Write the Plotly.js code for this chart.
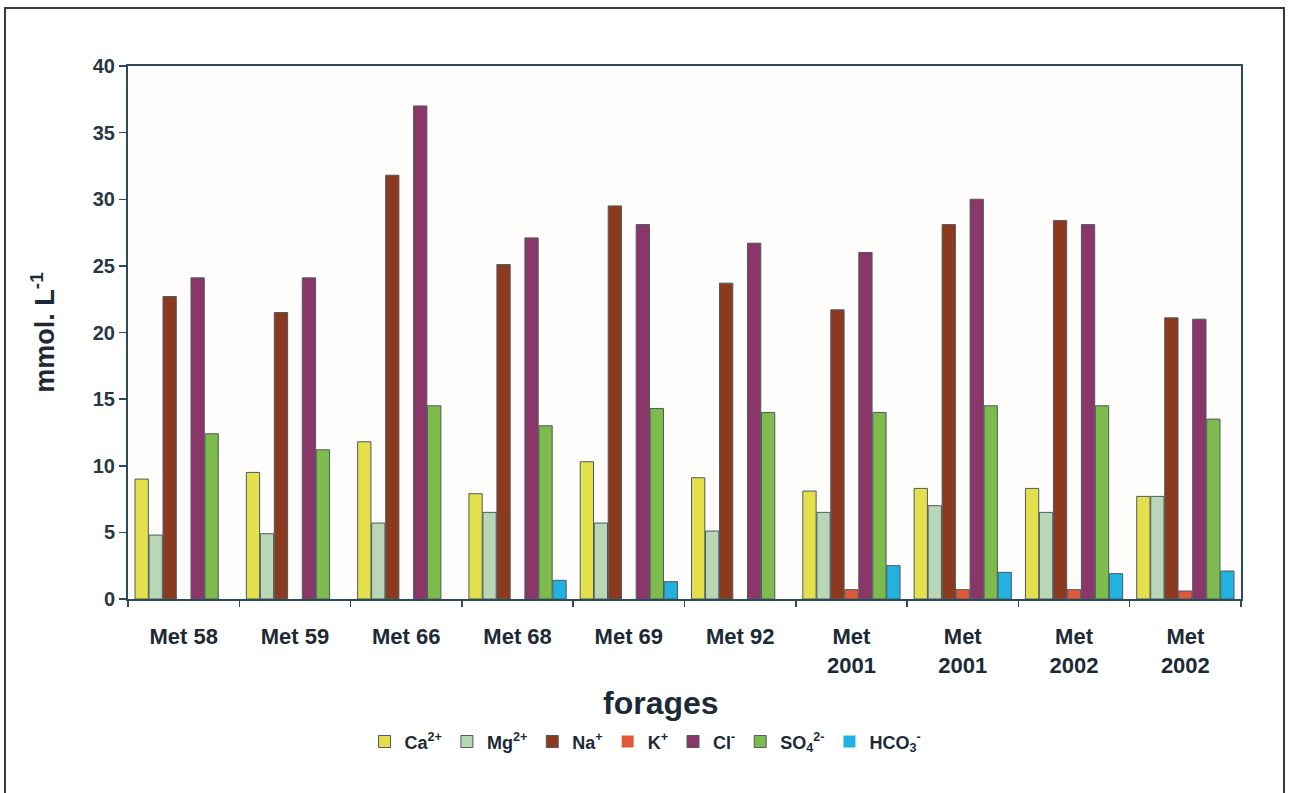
<!DOCTYPE html>
<html>
<head>
<meta charset="utf-8">
<script src="https://cdn.plot.ly/plotly-3.0.1.min.js"></script>
<style>
  html, body { margin: 0; padding: 0; background: #ffffff; }
  #wrap { position: relative; width: 1289px; height: 793px; overflow: hidden; }
  #chart { width: 1289px; height: 793px; }
  #frame { position: absolute; left: 4px; top: 7px; width: 1281px; height: 800px;
           border: 2px solid #3a3a3a; pointer-events: none; box-sizing: border-box; }
</style>
</head>
<body>
<div id="wrap">
  <div id="chart"></div>
  <div id="frame"></div>
</div>
<script>
// Boreholes (forages) and major ion concentrations, mmol/L
const forages = ["Met 58", "Met 59", "Met 66", "Met 68", "Met 69", "Met 92",
                 "Met<br>2001", "Met<br>2001", "Met<br>2002", "Met<br>2002"];

const ca   = [9.0, 9.5, 11.8, 7.9, 10.3, 9.1, 8.1, 8.3, 8.3, 7.7];
const mg   = [4.8, 4.9, 5.7, 6.5, 5.7, 5.1, 6.5, 7.0, 6.5, 7.7];
const na   = [22.7, 21.5, 31.8, 25.1, 29.5, 23.7, 21.7, 28.1, 28.4, 21.1];
const k    = [0, 0, 0, 0, 0, 0, 0.7, 0.7, 0.7, 0.6];
const cl   = [24.1, 24.1, 37.0, 27.1, 28.1, 26.7, 26.0, 30.0, 28.1, 21.0];
const so4  = [12.4, 11.2, 14.5, 13.0, 14.3, 14.0, 14.0, 14.5, 14.5, 13.5];
const hco3 = [0, 0, 0, 1.4, 1.3, 0, 2.5, 2.0, 1.9, 2.1];

const ionNames = ["Ca<sup>2+</sup>", "Mg<sup>2+</sup>", "Na<sup>+</sup>", "K<sup>+</sup>",
                  "Cl<sup>-</sup>", "SO<sub>4</sub><sup>2-</sup>", "HCO<sub>3</sub><sup>-</sup>"];
const ionValues = [ca, mg, na, k, cl, so4, hco3];
const ionColors = ["#e4e04c", "#b9d6b6", "#8c3a1f", "#e2583a", "#8a3668", "#7cbb4c", "#22b2e2"];

// positions along the x axis, one slot per borehole
const xpos = forages.map((_, i) => i);

const traces = ionValues.map((vals, j) => ({
  type: "bar",
  name: ionNames[j],
  x: xpos,
  y: vals,
  marker: {
    color: ionColors[j],
    // no outline on empty bars so nothing shows at zero
    line: { color: "#4d5a5e", width: vals.map(v => (v > 0 ? 1 : 0)) }
  },
  hoverinfo: "y+name"
}));

const axisColor = "#2c4a58";
const textColor = "#1c2a36";
const fontFam = "Liberation Sans, Arial, Helvetica, sans-serif";

const layout = {
  width: 1289, height: 793,
  margin: { l: 128, r: 48, t: 66, b: 194 },
  paper_bgcolor: "#ffffff",
  plot_bgcolor: "#fefdfc",
  barmode: "group",
  bargap: 0.12,
  bargroupgap: 0.05,
  font: { family: fontFam, color: textColor },
  showlegend: true,
  legend: {
    orientation: "h",
    x: 0.465, xanchor: "center",
    y: -0.268, yanchor: "middle",
    font: { family: fontFam, size: 18, weight: "bold", color: textColor },
    itemwidth: 30,
    tracegroupgap: 0,
    bgcolor: "rgba(0,0,0,0)"
  },
  xaxis: {
    range: [-0.5, forages.length - 0.5],
    tickmode: "array",
    tickvals: xpos,
    ticktext: forages,
    ticks: "",
    // ticks sit on the boundaries between boreholes
    minor: { ticks: "outside", tick0: -0.5, dtick: 1, ticklen: 6, tickwidth: 1.5,
             tickcolor: axisColor, showgrid: false },
    ticklabelstandoff: 17,
    showgrid: false,
    zeroline: false,
    showline: true, linecolor: axisColor, linewidth: 2, mirror: true,
    tickfont: { family: fontFam, size: 22, weight: "bold", color: textColor },
    automargin: false
  },
  yaxis: {
    range: [0, 40],
    dtick: 5,
    ticks: "outside", ticklen: 7, tickwidth: 1.5, tickcolor: axisColor,
    showgrid: false,
    zeroline: false,
    showline: true, linecolor: axisColor, linewidth: 2, mirror: true,
    tickfont: { family: fontFam, size: 20, weight: "bold", color: "#2a3742" },
    title: { text: "mmol. L<sup>-1</sup>", standoff: 30,
             font: { family: fontFam, size: 27, weight: "bold", color: textColor } },
    automargin: false
  },
  annotations: [{
    text: "forages",
    xref: "paper", yref: "paper",
    x: 0.479, y: -0.195, xanchor: "center", yanchor: "middle",
    showarrow: false,
    font: { family: fontFam, size: 32, weight: "bold", color: textColor }
  }]
};

Plotly.newPlot("chart", traces, layout, { displayModeBar: false, staticPlot: true });
</script>
</body>
</html>
